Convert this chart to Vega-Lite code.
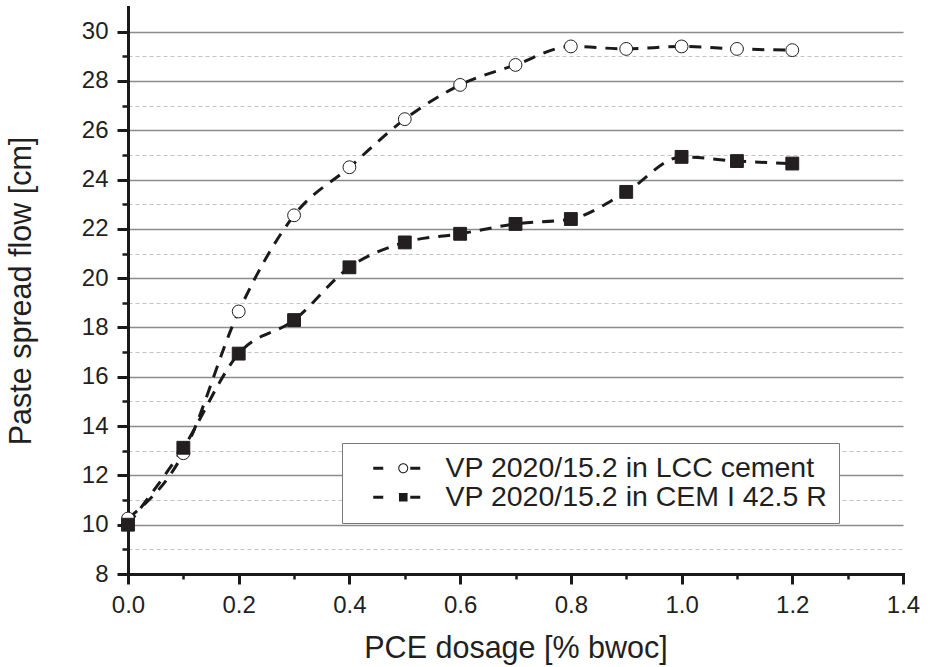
{
  "$schema": "https://vega.github.io/schema/vega-lite/v6.json",
  "width": 775,
  "height": 567,
  "autosize": "none",
  "padding": {"left": 128, "top": 7, "right": 26, "bottom": 93},
  "background": "white",
  "config": {
    "view": {"stroke": null},
    "font": "Liberation Sans",
    "axis": {"labelFont": "Liberation Sans", "titleFont": "Liberation Sans"}
  },
  "data": {
    "values": [
      {"x": 0.0, "y": 10.25, "series": "VP 2020/15.2 in LCC cement"},
      {"x": 0.1, "y": 12.9, "series": "VP 2020/15.2 in LCC cement"},
      {"x": 0.2, "y": 18.65, "series": "VP 2020/15.2 in LCC cement"},
      {"x": 0.3, "y": 22.55, "series": "VP 2020/15.2 in LCC cement"},
      {"x": 0.4, "y": 24.5, "series": "VP 2020/15.2 in LCC cement"},
      {"x": 0.5, "y": 26.45, "series": "VP 2020/15.2 in LCC cement"},
      {"x": 0.6, "y": 27.84, "series": "VP 2020/15.2 in LCC cement"},
      {"x": 0.7, "y": 28.65, "series": "VP 2020/15.2 in LCC cement"},
      {"x": 0.8, "y": 29.4, "series": "VP 2020/15.2 in LCC cement"},
      {"x": 0.9, "y": 29.3, "series": "VP 2020/15.2 in LCC cement"},
      {"x": 1.0, "y": 29.4, "series": "VP 2020/15.2 in LCC cement"},
      {"x": 1.1, "y": 29.3, "series": "VP 2020/15.2 in LCC cement"},
      {"x": 1.2, "y": 29.25, "series": "VP 2020/15.2 in LCC cement"},
      {"x": 0.0, "y": 10.0, "series": "VP 2020/15.2 in CEM I 42.5 R"},
      {"x": 0.1, "y": 13.12, "series": "VP 2020/15.2 in CEM I 42.5 R"},
      {"x": 0.2, "y": 16.94, "series": "VP 2020/15.2 in CEM I 42.5 R"},
      {"x": 0.3, "y": 18.3, "series": "VP 2020/15.2 in CEM I 42.5 R"},
      {"x": 0.4, "y": 20.44, "series": "VP 2020/15.2 in CEM I 42.5 R"},
      {"x": 0.5, "y": 21.45, "series": "VP 2020/15.2 in CEM I 42.5 R"},
      {"x": 0.6, "y": 21.8, "series": "VP 2020/15.2 in CEM I 42.5 R"},
      {"x": 0.7, "y": 22.2, "series": "VP 2020/15.2 in CEM I 42.5 R"},
      {"x": 0.8, "y": 22.4, "series": "VP 2020/15.2 in CEM I 42.5 R"},
      {"x": 0.9, "y": 23.5, "series": "VP 2020/15.2 in CEM I 42.5 R"},
      {"x": 1.0, "y": 24.92, "series": "VP 2020/15.2 in CEM I 42.5 R"},
      {"x": 1.1, "y": 24.75, "series": "VP 2020/15.2 in CEM I 42.5 R"},
      {"x": 1.2, "y": 24.65, "series": "VP 2020/15.2 in CEM I 42.5 R"}
    ]
  },
  "layer": [
    {
      "mark": {"type": "line", "interpolate": "monotone", "color": "#1a1a1a", "strokeWidth": 3, "strokeDash": [12, 9], "strokeCap": "butt"},
      "encoding": {
        "x": {
          "field": "x", "type": "quantitative",
          "scale": {"domain": [0, 1.4], "nice": false, "zero": false},
          "axis": {"orient": "bottom", "values": [0.1, 0.3, 0.5, 0.7, 0.9, 1.1, 1.3], "labels": false, "domain": false, "grid": false, "title": null, "tickSize": 5, "tickWidth": 2.5, "tickColor": "#1a1a1a"}
        },
        "y": {
          "field": "y", "type": "quantitative",
          "scale": {"domain": [8, 31], "nice": false, "zero": false},
          "axis": {"orient": "left", "values": [9, 11, 13, 15, 17, 19, 21, 23, 25, 27, 29], "labels": false, "domain": false, "title": null, "tickSize": 6, "tickWidth": 2.5, "tickColor": "#1a1a1a", "grid": true, "gridColor": "#c4c4c4", "gridWidth": 1, "gridDash": [4, 3]}
        },
        "detail": {"field": "series"}
      }
    },
    {
      "mark": {"type": "point", "filled": true, "stroke": "#231f20", "strokeWidth": 1, "size": 165, "opacity": 1},
      "encoding": {
        "x": {
          "field": "x", "type": "quantitative",
          "scale": {"domain": [0, 1.4], "nice": false, "zero": false},
          "axis": {"orient": "bottom", "values": [0, 0.2, 0.4, 0.6, 0.8, 1.0, 1.2, 1.4], "format": ".1f", "title": "PCE dosage [% bwoc]", "grid": false, "tickSize": 10, "tickWidth": 3, "tickColor": "#1a1a1a", "domainWidth": 3, "domainColor": "#1a1a1a", "domainCap": "square", "labelFontSize": 24, "labelColor": "#231f20", "labelPadding": 9, "labelFlush": false, "labelOverlap": false, "titleFontSize": 30.5, "titleFontWeight": "normal", "titleColor": "#231f20", "titlePadding": 16}
        },
        "y": {
          "field": "y", "type": "quantitative",
          "scale": {"domain": [8, 31], "nice": false, "zero": false},
          "axis": {"orient": "left", "values": [8, 10, 12, 14, 16, 18, 20, 22, 24, 26, 28, 30], "title": "Paste spread flow [cm]", "grid": true, "gridColor": "#8c8c8c", "gridWidth": 1.4, "tickSize": 11, "tickWidth": 3, "tickColor": "#1a1a1a", "domainWidth": 3, "domainColor": "#1a1a1a", "domainCap": "square", "labelFontSize": 24, "labelColor": "#231f20", "labelPadding": 9, "labelFlush": false, "labelOverlap": false, "titleFontSize": 30.5, "titleFontWeight": "normal", "titleColor": "#231f20", "titlePadding": 45}
        },
        "shape": {
          "field": "series", "type": "nominal",
          "scale": {"domain": ["VP 2020/15.2 in LCC cement", "VP 2020/15.2 in CEM I 42.5 R"], "range": ["circle", "square"]},
          "legend": null
        },
        "fill": {
          "field": "series", "type": "nominal",
          "scale": {"domain": ["VP 2020/15.2 in LCC cement", "VP 2020/15.2 in CEM I 42.5 R"], "range": ["white", "#231f20"]},
          "legend": null
        }
      }
    },
    {
      "transform": [{"filter": "datum.x < -1"}],
      "mark": {"type": "point", "filled": true, "color": "#1a1a1a", "strokeWidth": 0, "size": 400, "opacity": 1},
      "encoding": {
        "shape": {
          "field": "series", "type": "nominal",
          "scale": {
            "domain": ["VP 2020/15.2 in LCC cement", "VP 2020/15.2 in CEM I 42.5 R"],
            "range": [
              "M-3,-0.15H-2V0.15H-3ZM0.7,-0.15H1.7V0.15H0.7ZM0.5,0A0.5,0.5 0 1,1 -0.5,0A0.5,0.5 0 1,1 0.5,0ZM0.4,0A0.4,0.4 0 1,0 -0.4,0A0.4,0.4 0 1,0 0.4,0Z",
              "M-3,-0.15H-2V0.15H-3ZM0.7,-0.15H1.7V0.15H0.7ZM-0.43,-0.43H0.43V0.43H-0.43Z"
            ]
          },
          "legend": {
            "title": null,
            "orient": "none",
            "legendX": 214,
            "legendY": 436,
            "direction": "vertical",
            "padding": 11,
            "symbolSize": 400,
            "symbolOffset": 36,
            "symbolFillColor": "#1a1a1a",
            "symbolStrokeWidth": 0,
            "labelOffset": 28,
            "rowPadding": 0,
            "labelFont": "Liberation Sans",
            "labelFontSize": 28.5,
            "labelColor": "#231f20",
            "labelLimit": 500,
            "fillColor": "white",
            "strokeColor": "#7a7a7a"
          }
        }
      }
    }
  ],
  "resolve": {"axis": {"x": "independent", "y": "independent"}, "scale": {"shape": "independent"}}
}
